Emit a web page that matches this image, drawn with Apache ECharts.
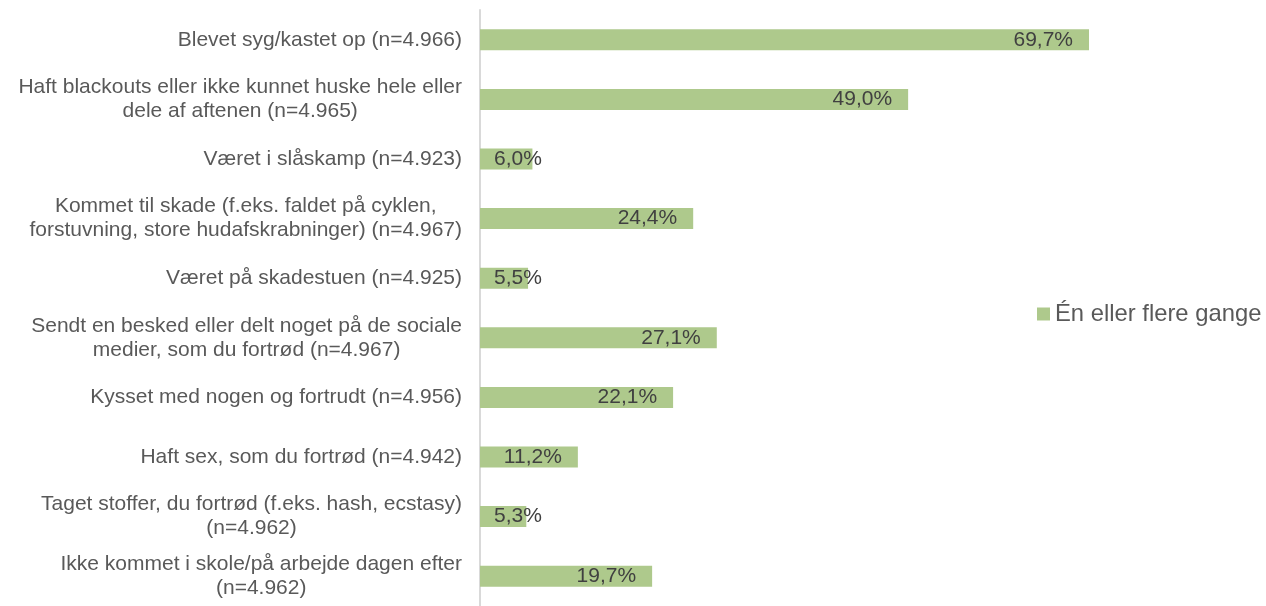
<!DOCTYPE html>
<html>
<head>
<meta charset="utf-8">
<script src="https://cdn.jsdelivr.net/npm/echarts@6/dist/echarts.min.js"></script>
<style>
  html, body { margin: 0; padding: 0; background: #ffffff; }
  #chart { width: 1266px; height: 606px; }
</style>
</head>
<body>
<div id="chart"></div>
<script>
// Consequences of drinking, share answering "one or more times"
const categories = [
  'Blevet syg/kastet op (n=4.966)',
  'Haft blackouts eller ikke kunnet huske hele eller\ndele af aftenen (n=4.965)',
  'Været i slåskamp (n=4.923)',
  'Kommet til skade (f.eks. faldet på cyklen,\nforstuvning, store hudafskrabninger) (n=4.967)',
  'Været på skadestuen (n=4.925)',
  'Sendt en besked eller delt noget på de sociale\nmedier, som du fortrød (n=4.967)',
  'Kysset med nogen og fortrudt (n=4.956)',
  'Haft sex, som du fortrød (n=4.942)',
  'Taget stoffer, du fortrød (f.eks. hash, ecstasy)\n(n=4.962)',
  'Ikke kommet i skole/på arbejde dagen efter\n(n=4.962)'
];
const seriesName = 'Én eller flere gange';
const values = [69.7, 49.0, 6.0, 24.4, 5.5, 27.1, 22.1, 11.2, 5.3, 19.7];

const FONT = '"Liberation Sans", Arial, sans-serif';
const BAR_COLOR = '#AEC98C';

// Short bars cannot hold their label at the end, so it starts from the base instead
const SHORT_BAR = 8;
const barData = values.map(v => v < SHORT_BAR
  ? { value: v, label: { position: 'insideLeft', distance: 14 } }
  : v);

const pct = v => v.toFixed(1).replace('.', ',') + '%';

const chart = echarts.init(document.getElementById('chart'), null, { renderer: 'canvas' });
chart.setOption({
  animation: false,
  backgroundColor: '#ffffff',
  textStyle: { fontFamily: FONT },
  grid: { left: 480, right: 87, top: 10, bottom: -5, containLabel: false },
  legend: {
    data: [seriesName],
    left: 1037,
    top: 302,
    padding: 0,
    itemWidth: 13,
    itemHeight: 13,
    itemGap: 5,
    icon: 'rect',
    textStyle: { fontFamily: FONT, fontSize: 23.8, color: '#595959', padding: [0, 0, 0, 0] }
  },
  xAxis: {
    type: 'value',
    min: 0,
    max: 80,
    show: false,
    splitLine: { show: false }
  },
  yAxis: {
    type: 'category',
    data: categories,
    inverse: true,
    axisLine: { show: true, lineStyle: { color: '#D9D9D9', width: 2 } },
    axisTick: { show: false },
    axisLabel: {
      margin: 18,
      align: 'right',
      formatter: s => s.split('\n').map(l => '{c|' + l + '}').join('\n'),
      rich: {
        c: { align: 'center', fontFamily: FONT, fontSize: 21, lineHeight: 24, color: '#595959' }
      }
    }
  },
  series: [{
    name: seriesName,
    type: 'bar',
    data: barData,
    barWidth: 21,
    itemStyle: { color: BAR_COLOR },
    label: {
      show: true,
      position: 'insideRight',
      distance: 16,
      formatter: p => pct(p.value),
      fontFamily: FONT,
      fontSize: 21,
      color: '#404040'
    }
  }]
});
</script>
</body>
</html>
